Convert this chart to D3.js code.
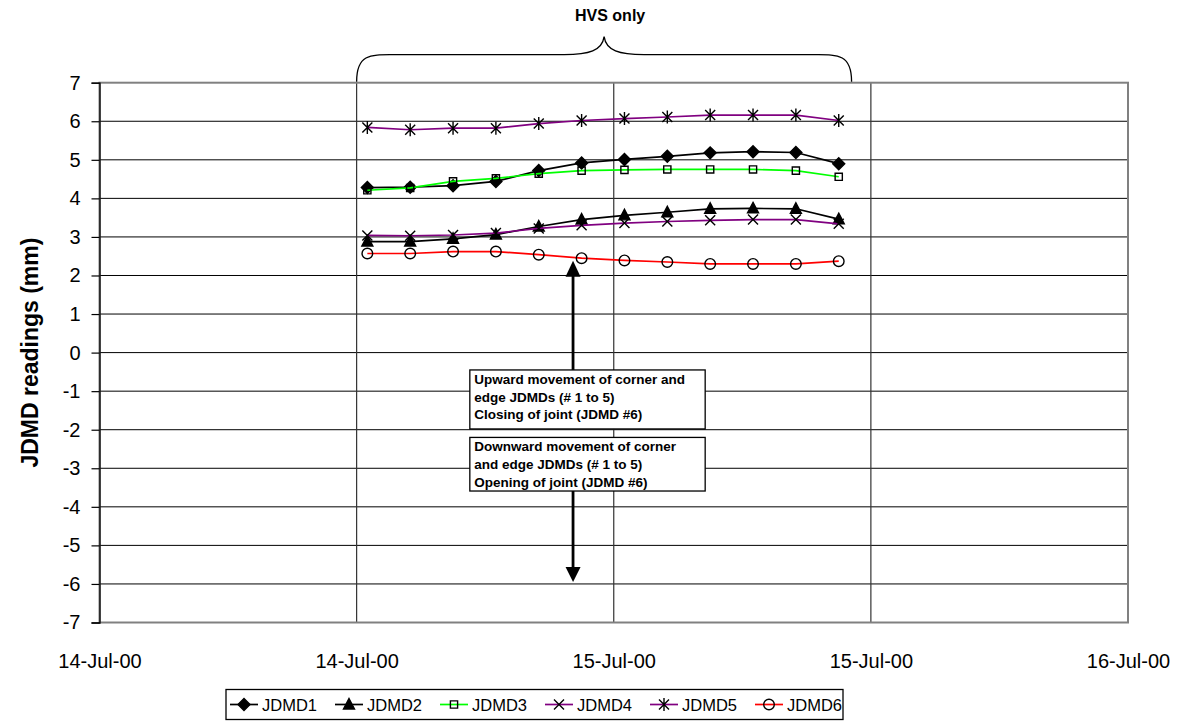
<!DOCTYPE html>
<html><head><meta charset="utf-8">
<script src="https://cdn.jsdelivr.net/npm/d3@7"></script>
<style>body{margin:0;background:#fff;} svg{display:block;font-family:"Liberation Sans",Arial,sans-serif;}</style>
</head><body><svg id="c" width="1183" height="725"></svg>
<script>
// ---- data ----
const times = ["2000-07-14T12:30","2000-07-14T14:30","2000-07-14T16:30","2000-07-14T18:30",
  "2000-07-14T20:30","2000-07-14T22:30","2000-07-15T00:30","2000-07-15T02:30",
  "2000-07-15T04:30","2000-07-15T06:30","2000-07-15T08:30","2000-07-15T10:30"];
const jdmd1 = [4.28,4.29,4.33,4.44,4.72,4.92,5.01,5.09,5.18,5.21,5.19,4.90];
const jdmd2 = [2.88,2.88,2.95,3.06,3.27,3.45,3.56,3.64,3.73,3.74,3.73,3.46];
const jdmd3 = [4.21,4.27,4.44,4.52,4.64,4.72,4.74,4.75,4.75,4.75,4.72,4.56];
const jdmd4 = [3.04,3.03,3.05,3.10,3.22,3.30,3.36,3.40,3.43,3.45,3.45,3.34];
const jdmd5 = [5.84,5.78,5.82,5.82,5.94,6.02,6.07,6.11,6.16,6.16,6.16,6.02];
const jdmd6 = [2.57,2.57,2.62,2.62,2.54,2.45,2.39,2.35,2.30,2.30,2.30,2.37];
const seriesNames = ["JDMD1","JDMD2","JDMD3","JDMD4","JDMD5","JDMD6"];
const yTicks = [-7,-6,-5,-4,-3,-2,-1,0,1,2,3,4,5,6,7];
const xDomain = ["2000-07-14T00:00","2000-07-16T00:00"];
const yTitle = "JDMD readings (mm)";
const braceLabel = "HVS only";
const braceSpan = ["2000-07-14T12:00","2000-07-15T11:06"];
const box1Lines = ["Upward movement of corner and","edge JDMDs (# 1 to 5)","Closing of joint (JDMD #6)"];
const box2Lines = ["Downward movement of corner","and edge JDMDs (# 1 to 5)","Opening of joint (JDMD #6)"];

// ---- setup ----
const parse = d3.timeParse("%Y-%m-%dT%H:%M");
const svg = d3.select("#c");
const L = 99.5, R = 1128, T = 82.7, B = 622.5;
const x = d3.scaleTime().domain(xDomain.map(parse)).range([L, R]);
const y = d3.scaleLinear().domain([-7, 7]).range([B, T]);
const xTicks = x.ticks(d3.timeHour.every(12));

// gridlines
svg.append("g").selectAll("line").data(yTicks.slice(1, -1)).join("line")
  .attr("x1", L).attr("x2", R).attr("y1", d => y(d)).attr("y2", d => y(d))
  .attr("stroke", "#000").attr("stroke-width", 1);
svg.append("g").selectAll("line").data(xTicks.slice(1, -1)).join("line")
  .attr("x1", d => x(d)).attr("x2", d => x(d)).attr("y1", T).attr("y2", B)
  .attr("stroke", "#333").attr("stroke-width", 1.2);
svg.append("rect").attr("x", L).attr("y", T).attr("width", R - L).attr("height", B - T)
  .attr("fill", "none").attr("stroke", "#808080").attr("stroke-width", 2);

// y axis
const yAxis = svg.append("g").attr("transform", `translate(${L},0)`)
  .call(d3.axisLeft(y).tickValues(yTicks).tickSize(8).tickPadding(11).tickFormat(d => String(d)));
yAxis.select(".domain").attr("stroke", "#000").attr("stroke-width", 1.3);
yAxis.selectAll(".tick line").attr("stroke", "#000").attr("stroke-width", 1.2);
yAxis.selectAll("text").attr("font-size", 20).attr("font-family", "Liberation Sans, Arial, sans-serif").attr("fill", "#000");

// x axis labels
const xAxis = svg.append("g").attr("transform", `translate(0,${B})`)
  .call(d3.axisBottom(x).tickValues(xTicks).tickSize(0).tickPadding(31).tickFormat(d3.timeFormat("%d-%b-%y")));
xAxis.select(".domain").remove();
xAxis.selectAll("text").attr("font-size", 20).attr("font-family", "Liberation Sans, Arial, sans-serif").attr("fill", "#000");

// y title
svg.append("text").attr("transform", `translate(30,${(T + B) / 2}) rotate(-90)`)
  .attr("text-anchor", "middle").attr("dominant-baseline", "central")
  .attr("font-size", 23).attr("font-weight", "bold").text(yTitle);

// marker shapes
const markers = {
  diamond: "M0,-6L6,0L0,6L-6,0Z",
  triangle: "M0,-6L5.5,4.5L-5.5,4.5Z",
  square: "M-3.6,-3.6H3.6V3.6H-3.6Z",
  cross: "M-5,-5L5,5M-5,5L5,-5",
  star: "M-5,-5L5,5M-5,5L5,-5M0,-6.5L0,6.5",
  circle: d3.symbol(d3.symbolCircle, Math.PI * 5.3 * 5.3)()
};
const styles = [
  {vals: jdmd1, color: "#000", m: "diamond", fill: "#000"},
  {vals: jdmd2, color: "#000", m: "triangle", fill: "#000"},
  {vals: jdmd3, color: "#00ff00", m: "square", fill: "none"},
  {vals: jdmd4, color: "#800080", m: "cross", fill: "none"},
  {vals: jdmd5, color: "#800080", m: "star", fill: "none"},
  {vals: jdmd6, color: "#ff0000", m: "circle", fill: "none"}
];
const tParsed = times.map(parse);
const line = d3.line().x(d => x(d[0])).y(d => y(d[1]));
styles.forEach((s, i) => {
  const pts = tParsed.map((t, j) => [t, s.vals[j]]);
  const g = svg.append("g");
  g.append("path").attr("d", line(pts)).attr("fill", "none").attr("stroke", s.color).attr("stroke-width", 1.7);
  g.selectAll("path.mk").data(pts).join("path").attr("class", "mk")
    .attr("transform", d => `translate(${x(d[0])},${y(d[1])})`)
    .attr("d", markers[s.m]).attr("fill", s.fill).attr("stroke", "#000").attr("stroke-width", 1.4);
});

// brace annotation
const bx0 = x(parse(braceSpan[0])), bx1 = x(parse(braceSpan[1])), bm = (bx0 + bx1) / 2;
const ye = T - 1, yh = T - 28, yp = T - 46;
svg.append("path").attr("fill", "none").attr("stroke", "#000").attr("stroke-width", 1.3)
  .attr("d", `M${bx0},${ye} C${bx0},${yh - 2} ${bx0 + 15},${yh} ${bx0 + 40},${yh} L${bm - 40},${yh} C${bm - 15},${yh} ${bm - 2},${yh - 4} ${bm},${yp} C${bm + 2},${yh - 4} ${bm + 15},${yh} ${bm + 40},${yh} L${bx1 - 40},${yh} C${bx1 - 15},${yh} ${bx1},${yh - 2} ${bx1},${ye}`);
svg.append("text").attr("x", bm + 6).attr("y", 21).attr("text-anchor", "middle")
  .attr("font-size", 16).attr("font-weight", "bold").text(braceLabel);

// arrows and boxes
const arrowX = x(parse("2000-07-14T22:06"));
const boxX0 = x(parse("2000-07-14T17:17")), boxX1 = x(parse("2000-07-15T04:16"));
const b1 = [y(-0.45), y(-1.98)], b2 = [y(-2.2), y(-3.59)];
const upTip = y(2.38), downTip = y(-5.95);
svg.append("line").attr("x1", arrowX).attr("x2", arrowX).attr("y1", upTip + 14).attr("y2", b1[0])
  .attr("stroke", "#000").attr("stroke-width", 2.8);
svg.append("path").attr("d", `M${arrowX},${upTip}L${arrowX + 7.5},${upTip + 16}L${arrowX - 7.5},${upTip + 16}Z`).attr("fill", "#000");
svg.append("line").attr("x1", arrowX).attr("x2", arrowX).attr("y1", b2[1]).attr("y2", downTip - 14)
  .attr("stroke", "#000").attr("stroke-width", 2.8);
svg.append("path").attr("d", `M${arrowX},${downTip}L${arrowX + 7.5},${downTip - 15}L${arrowX - 7.5},${downTip - 15}Z`).attr("fill", "#000");
[[b1, box1Lines], [b2, box2Lines]].forEach(([b, lines]) => {
  svg.append("rect").attr("x", boxX0).attr("y", b[0]).attr("width", boxX1 - boxX0).attr("height", b[1] - b[0])
    .attr("fill", "#fff").attr("stroke", "#000").attr("stroke-width", 1.3);
  lines.forEach((t, k) => {
    svg.append("text").attr("x", boxX0 + 4.5).attr("y", b[0] + 14 + k * 17.6)
      .attr("font-size", 13.5).attr("font-weight", "bold").text(t);
  });
});

// legend
const legX = 226, legY = 689.5, legW = 617, legH = 30, itemW = 105;
const lg = svg.append("g");
lg.append("rect").attr("x", legX).attr("y", legY).attr("width", legW).attr("height", legH)
  .attr("fill", "#fff").attr("stroke", "#000").attr("stroke-width", 1.3);
styles.forEach((s, i) => {
  const x0 = legX + 4 + i * itemW, cy = legY + 15;
  lg.append("line").attr("x1", x0).attr("x2", x0 + 28).attr("y1", cy).attr("y2", cy)
    .attr("stroke", s.color).attr("stroke-width", 1.7);
  lg.append("path").attr("transform", `translate(${x0 + 14},${cy})`).attr("d", markers[s.m])
    .attr("fill", s.fill).attr("stroke", "#000").attr("stroke-width", 1.4);
  lg.append("text").attr("x", x0 + 32).attr("y", cy + 6).attr("font-size", 16.5).text(seriesNames[i]);
});
</script></body></html>
